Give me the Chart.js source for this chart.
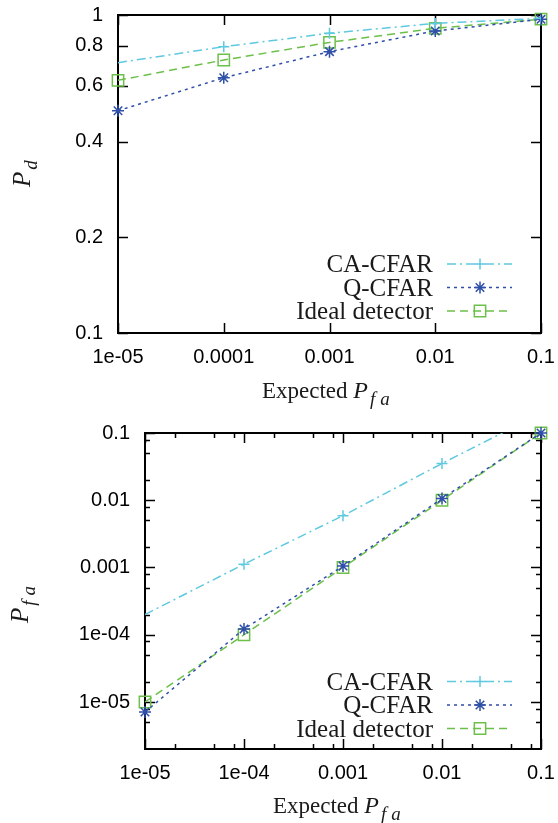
<!DOCTYPE html>
<html>
<head>
<meta charset="utf-8">
<script src="https://cdn.jsdelivr.net/npm/chart.js@4/dist/chart.umd.min.js"></script>
<style>
    body { margin: 0; background: #fff; }
    .panel { position: absolute; left: 0; width: 558px; }
    #topPanel { top: 0; height: 410px; }
    #bottomPanel { top: 410px; height: 413px; }
</style>
</head>
<body>
<div class="panel" id="topPanel"><canvas id="pdChart"></canvas></div>
<div class="panel" id="bottomPanel"><canvas id="pfaChart"></canvas></div>
<script>
        // Data
        const expectedPfa = [1e-5, 1e-4, 1e-3, 1e-2, 1e-1];

        const pdCaCfar = [0.708, 0.795, 0.876, 0.941, 0.976];
        const pdQCfar  = [0.500, 0.635, 0.767, 0.891, 0.969];
        const pdIdeal  = [0.623, 0.722, 0.820, 0.908, 0.970];

        const pfaCaCfar = [2.0e-4, 1.12e-3, 5.9e-3, 0.0352, 0.197];
        const pfaQCfar  = [7.1e-6, 1.22e-4, 1.05e-3, 0.0106, 0.1];
        const pfaIdeal  = [1e-5, 1e-4, 1e-3, 1e-2, 1e-1];

        const pdTicks = [0.1, 0.2, 0.4, 0.6, 0.8, 1];
        const pdTickLabels = ['0.1', '0.2', '0.4', '0.6', '0.8', '1'];
        const topXTickLabels = ['1e-05', '0.0001', '0.001', '0.01', '0.1'];
        const pfaTicks = [1e-5, 1e-4, 1e-3, 1e-2, 1e-1];
        const pfaTickLabels = ['1e-05', '1e-04', '0.001', '0.01', '0.1'];
        const bottomXTickLabels = ['1e-05', '1e-04', '0.001', '0.01', '0.1'];
        const minorSteps = [2, 5, 8];

        const seriesNames = ['CA-CFAR', 'Q-CFAR', 'Ideal detector'];

        const CYAN = '#5fc9e0';
        const BLUE = '#2f4fa8';
        const GREEN = '#6cc04a';

        const toPoints = (ys) => expectedPfa.map((x, i) => ({ x: x, y: ys[i] }));

        function makeDatasets(ca, q, ideal) {
            return [{
                label: seriesNames[0],
                data: toPoints(ca),
                borderColor: CYAN,
                borderWidth: 1.5,
                borderDash: [9, 4, 2, 4],
                pointStyle: 'cross',
                pointRadius: [0, 5.5, 5.5, 5.5, 5.5],
                pointBorderColor: CYAN,
                pointBorderWidth: 1.5,
                clip: 0,
                markerSize: 5.5
            }, {
                label: seriesNames[1],
                data: toPoints(q),
                borderColor: BLUE,
                borderWidth: 1.5,
                borderDash: [3, 4],
                pointStyle: 'star',
                pointRadius: 6,
                pointBorderColor: BLUE,
                pointBorderWidth: 1.5,
                clip: 12,
                markerSize: 6
            }, {
                label: seriesNames[2],
                data: toPoints(ideal),
                borderColor: GREEN,
                borderWidth: 1.5,
                borderDash: [8, 5],
                pointStyle: 'rect',
                pointRadius: 8,
                pointBackgroundColor: 'rgba(0,0,0,0)',
                pointBorderColor: GREEN,
                pointBorderWidth: 1.5,
                clip: 12,
                markerSize: 8
            }];
        }

        function minorValues(min, max) {
            const out = [];
            for (let d = Math.floor(Math.log10(min)); d <= Math.ceil(Math.log10(max)); d++) {
                minorSteps.forEach(m => {
                    const v = m * Math.pow(10, d);
                    if (v > min * 1.0001 && v < max * 0.9999) out.push(v);
                });
            }
            return out;
        }

        function drawMarker(ctx, style, x, y, r) {
            ctx.beginPath();
            if (style === 'cross' || style === 'star') {
                ctx.moveTo(x - r, y); ctx.lineTo(x + r, y);
                ctx.moveTo(x, y - r); ctx.lineTo(x, y + r);
            }
            if (style === 'star') {
                const d = r * Math.SQRT1_2;
                ctx.moveTo(x - d, y - d); ctx.lineTo(x + d, y + d);
                ctx.moveTo(x - d, y + d); ctx.lineTo(x + d, y - d);
            }
            if (style === 'rect') {
                const s = r * Math.SQRT1_2;
                ctx.rect(x - s, y - s, 2 * s, 2 * s);
            }
            ctx.stroke();
        }

        // draws subscript letters one by one, gnuplot spaces them out a bit
        function drawSub(ctx, text, x, y) {
            for (const ch of text) {
                ctx.fillText(ch, x, y);
                x += ctx.measureText(ch).width + 5;
            }
        }

        // Gnuplot-like frame: border box, inward ticks on all sides, key and axis titles
        const gnuplotFrame = {
            id: 'gnuplotFrame',
            beforeDatasetsDraw(chart, args, opts) {
                const { ctx, chartArea: a, scales } = chart;
                ctx.save();
                ctx.strokeStyle = '#000';
                ctx.lineWidth = 1.5;
                const ticks = (scale, values, len) => {
                    values.forEach(v => {
                        const p = Math.round(scale.getPixelForValue(v)) + 0.5;
                        ctx.beginPath();
                        if (scale.isHorizontal()) {
                            ctx.moveTo(p, a.bottom); ctx.lineTo(p, a.bottom - len);
                            ctx.moveTo(p, a.top); ctx.lineTo(p, a.top + len);
                        } else {
                            ctx.moveTo(a.left, p); ctx.lineTo(a.left + len, p);
                            ctx.moveTo(a.right, p); ctx.lineTo(a.right - len, p);
                        }
                        ctx.stroke();
                    });
                };
                ticks(scales.x, opts.xMajor, 10);
                ticks(scales.y, opts.yMajor, 10);
                if (opts.minor) {
                    ticks(scales.x, minorValues(scales.x.min, scales.x.max), 5);
                    ticks(scales.y, minorValues(scales.y.min, scales.y.max), 5);
                }
                ctx.lineWidth = 2;
                ctx.strokeRect(a.left, a.top, a.right - a.left, a.bottom - a.top);
                ctx.restore();
            },
            afterDraw(chart, args, opts) {
                const ctx = chart.ctx;
                ctx.save();
                ctx.fillStyle = '#1a1a1a';

                // key
                chart.data.datasets.forEach((ds, i) => {
                    const ly = opts.keyY + i * 23.5;
                    ctx.font = '25px "Liberation Serif"';
                    ctx.textAlign = 'right';
                    ctx.textBaseline = 'alphabetic';
                    ctx.fillText(ds.label, 433, ly + 8);
                    ctx.strokeStyle = ds.borderColor;
                    ctx.lineWidth = ds.borderWidth;
                    ctx.setLineDash(ds.borderDash);
                    ctx.beginPath();
                    ctx.moveTo(447, ly); ctx.lineTo(512, ly);
                    ctx.stroke();
                    ctx.setLineDash([]);
                    drawMarker(ctx, ds.pointStyle, 480, ly, ds.markerSize);
                });

                // x title: Expected P_fa
                ctx.textAlign = 'left';
                ctx.textBaseline = 'alphabetic';
                let x = opts.xTitle.x;
                const y = opts.xTitle.y;
                ctx.font = '23px "Liberation Serif"';
                ctx.fillText('Expected ', x, y);
                x += ctx.measureText('Expected ').width;
                ctx.font = 'italic 24px "Liberation Serif"';
                ctx.fillText('P', x, y);
                x += ctx.measureText('P').width + 2;
                ctx.font = 'italic 19px "Liberation Serif"';
                drawSub(ctx, 'fa', x, y + 7);

                // y title, rotated
                ctx.translate(opts.yTitle.x, opts.yTitle.y);
                ctx.rotate(-Math.PI / 2);
                ctx.font = 'italic 25px "Liberation Serif"';
                ctx.fillText('P', 0, 0);
                const w = ctx.measureText('P').width + 2;
                ctx.font = 'italic 19px "Liberation Serif"';
                drawSub(ctx, opts.yTitle.sub, w, 7);
                ctx.restore();
            }
        };

        function axisConfig(opts) {
            return {
                type: 'logarithmic',
                min: opts.min,
                max: opts.max,
                afterBuildTicks: (scale) => {
                    scale.ticks = opts.values.map(v => ({ value: v }));
                },
                afterFit: (s) => {
                    opts.fit(s);
                    // let layout.padding alone decide where the box goes
                    s.paddingTop = 0; s.paddingBottom = 0;
                    s.paddingLeft = 0; s.paddingRight = 0;
                },
                grid: { display: false, drawTicks: false },
                border: { display: false },
                ticks: {
                    autoSkip: false,
                    maxRotation: 0,
                    padding: opts.padding,
                    color: '#000',
                    font: { family: '"Liberation Sans", Arial, sans-serif', size: 20 },
                    callback: (value, index) => opts.labels[index]
                }
            };
        }

        // Top: P_d vs expected P_fa
        new Chart(document.getElementById('pdChart'), {
            type: 'line',
            data: { datasets: makeDatasets(pdCaCfar, pdQCfar, pdIdeal) },
            plugins: [gnuplotFrame],
            options: {
                responsive: true,
                maintainAspectRatio: false,
                animation: false,
                devicePixelRatio: 1,
                events: [],
                layout: { padding: { top: 15, right: 17, left: 0, bottom: 0 } },
                plugins: {
                    legend: { display: false },
                    tooltip: { enabled: false },
                    gnuplotFrame: {
                        xMajor: expectedPfa,
                        yMajor: pdTicks,
                        minor: false,
                        keyY: 264,
                        xTitle: { x: 262, y: 398 },
                        yTitle: { x: 30, y: 187, sub: 'd' }
                    }
                },
                scales: {
                    x: axisConfig({ min: 1e-5, max: 0.1, values: expectedPfa, labels: topXTickLabels, padding: 12,
                        fit: s => { s.height = 77; } }),
                    y: axisConfig({ min: 0.1, max: 1, values: pdTicks, labels: pdTickLabels, padding: 15,
                        fit: s => { s.width = 118; } })
                }
            }
        });

        // Bottom: measured P_fa vs expected P_fa
        new Chart(document.getElementById('pfaChart'), {
            type: 'line',
            data: { datasets: makeDatasets(pfaCaCfar, pfaQCfar, pfaIdeal) },
            plugins: [gnuplotFrame],
            options: {
                responsive: true,
                maintainAspectRatio: false,
                animation: false,
                devicePixelRatio: 1,
                events: [],
                layout: { padding: { top: 23, right: 17, left: 0, bottom: 0 } },
                plugins: {
                    legend: { display: false },
                    tooltip: { enabled: false },
                    gnuplotFrame: {
                        xMajor: expectedPfa,
                        yMajor: pfaTicks,
                        minor: true,
                        keyY: 271.5,
                        xTitle: { x: 273, y: 403 },
                        yTitle: { x: 28, y: 213, sub: 'fa' }
                    }
                },
                scales: {
                    x: axisConfig({ min: 1e-5, max: 0.1, values: expectedPfa, labels: bottomXTickLabels, padding: 12,
                        fit: s => { s.height = 74; } }),
                    y: axisConfig({ min: 2e-6, max: 0.1, values: pfaTicks, labels: pfaTickLabels, padding: 15,
                        fit: s => { s.width = 145; } })
                }
            }
        });
</script>
</body>
</html>
